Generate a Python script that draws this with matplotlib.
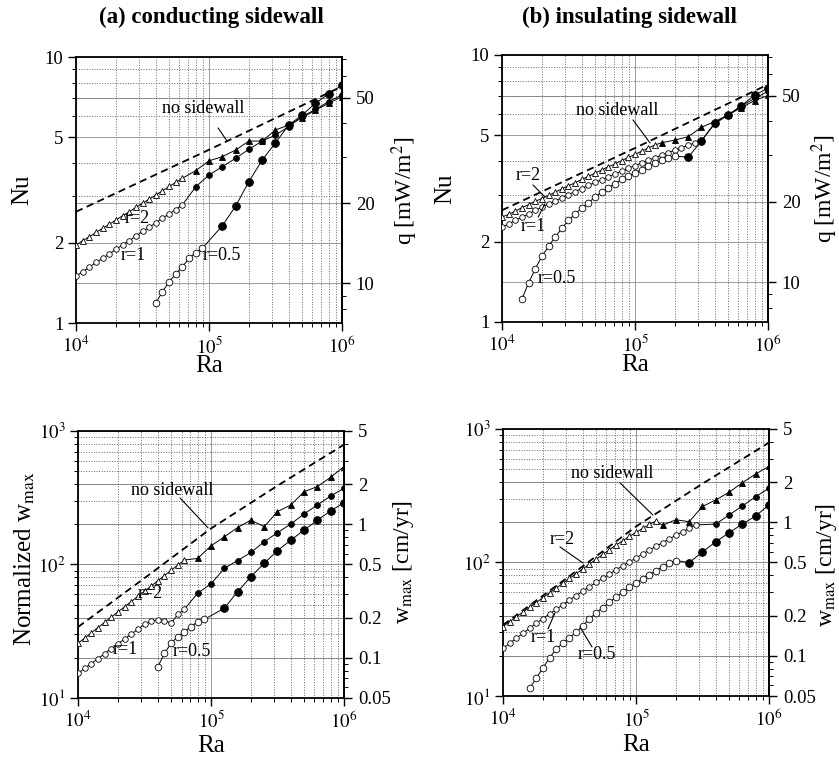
import numpy as np
import matplotlib
matplotlib.use("Agg")
import matplotlib.pyplot as plt
from matplotlib.ticker import FixedLocator, NullFormatter, LogLocator

plt.rcParams["font.family"] = ["Liberation Serif", "DejaVu Serif"]
plt.rcParams["mathtext.fontset"] = "stix"

# ---------------------------------------------------------------- data
# Rayleigh numbers: fine runs (10^4 ... 10^5.5, step 10^0.05), coarse runs (10^4.9 ... 10^6, step 10^0.1)
RA_FINE = np.array([10000, 11220, 12589, 14125, 15849, 17783, 19953, 22387, 25119, 28184,
                    31623, 35481, 39811, 44668, 50119, 56234, 63096, 70795, 79433, 89125,
                    100000, 112202, 125893, 141254, 158489, 177828, 199526, 223872, 251189,
                    281838, 316228])
RA_COARSE = np.array([79433, 100000, 125893, 158489, 199526, 251189, 316228, 398107,
                      501187, 630957, 794328, 1000000])

# no-sidewall reference curves
RA_NOSIDE_NU = [1.0e4, 1.0e5, 1.0e6]
NU_NOSIDE = [2.62, 4.48, 7.75]
RA_NOSIDE_W = [1.0e4, 3.16e4, 1.0e5, 3.16e5, 1.0e6]
W_NOSIDE = [34.0, 79.0, 186.0, 389.0, 790.0]

# (a) conducting sidewall, Nusselt number
NU_A_R2_OPEN = [1.96, 2.04, 2.11, 2.19, 2.27, 2.35, 2.44, 2.53, 2.62, 2.72, 2.82, 2.92,
                3.03, 3.14, 3.26, 3.38, 3.50]
NU_A_R2_FILLED = [3.74, 4.07, 4.22, 4.47, 4.83, 4.83, 5.32, 5.55, 5.92, 6.30, 6.70, 7.10]
NU_A_R1_OPEN = [1.50, 1.56, 1.62, 1.69, 1.75, 1.82, 1.89, 1.97, 2.04, 2.12, 2.21, 2.29,
                2.38, 2.48, 2.57, 2.67, 2.78]
NU_A_R1_FILLED = [3.25, 3.60, 3.87, 4.16, 4.50, 4.83, 5.09, 5.47, 5.97, 6.35, 6.80, 7.20]
NU_A_R05_OPEN = [1.19, 1.31, 1.43, 1.53, 1.63, 1.75, 1.84, 1.91]
NU_A_R05_FILLED = [2.32, 2.75, 3.40, 4.10, 4.76, 5.55, 6.05, 6.70, 7.26, 7.85]

# (b) insulating sidewall, Nusselt number
NU_B_R2_OPEN = [2.47, 2.53, 2.60, 2.68, 2.75, 2.83, 2.90, 2.98, 3.06, 3.15, 3.24, 3.32,
                3.42, 3.51, 3.61, 3.71, 3.81, 3.91, 4.02, 4.13, 4.24, 4.36, 4.48, 4.60]
NU_B_R2_FILLED = [4.69, 4.80, 4.94, 5.36, 5.63, 5.96, 6.35, 6.75, 7.05]
NU_B_R1_OPEN = [2.26, 2.33, 2.40, 2.47, 2.54, 2.62, 2.69, 2.77, 2.84, 2.92, 3.00, 3.08,
                3.16, 3.25, 3.33, 3.41, 3.50, 3.59, 3.67, 3.76, 3.85, 3.94, 4.03, 4.12,
                4.21, 4.31, 4.40, 4.49, 4.59, 4.68, 4.78]
NU_B_R1_FILLED = [5.52, 5.96, 6.44, 6.88, 7.30]
NU_B_R05_OPEN = [1.22, 1.40, 1.58, 1.76, 1.92, 2.08, 2.24, 2.40, 2.54, 2.67, 2.80, 2.93,
                 3.06, 3.18, 3.30, 3.42, 3.52, 3.62, 3.72, 3.83, 3.94, 4.04, 4.12, 4.18]
NU_B_R05_FILLED = [4.14, 4.76, 5.57, 5.96, 6.45, 7.08, 7.50]

# (a) conducting sidewall, normalized maximum vertical velocity
W_A_R2_OPEN = [25.7, 28.1, 30.8, 33.7, 36.8, 40.3, 44.1, 48.2, 52.7, 57.7, 63.1, 69.0,
               75.5, 82.6, 90.4, 98.9, 108.0]
W_A_R2_FILLED = [111, 138, 161, 189, 215, 192, 249, 279, 351, 383, 450, 541]
W_A_R1_OPEN = [15.3, 16.7, 18.1, 19.7, 21.5, 23.4, 25.4, 27.7, 30.1, 32.7, 35.6, 37.6,
               38.5, 38.0, 36.3, 42.2, 46.2]
W_A_R1_FILLED = [61, 71.5, 93.5, 107, 123, 148, 173, 201, 239, 279, 326, 372]
W_A_R05_OPEN = [17.1, 21.6, 25.7, 28.8, 31.4, 34.2, 37.3, 38.8]
W_A_R05_FILLED = [47, 62.5, 81, 102, 127, 152, 181, 215, 252, 290]

# (b) insulating sidewall, normalized maximum vertical velocity
W_B_R2_OPEN = [33.1, 36.0, 39.1, 42.5, 46.1, 50.1, 54.5, 59.2, 64.3, 69.8, 75.9, 82.4,
               89.5, 97.3, 105.7, 114.8, 124.7, 134.9, 145.5, 156.7, 167.9, 179.9, 192.8,
               204.2]
W_B_R2_FILLED = [190, 209, 202, 263, 294, 336, 396, 460, 525]
W_B_R1_OPEN = [22.8, 24.8, 27.1, 29.5, 32.1, 35.0, 38.0, 41.2, 44.6, 48.3, 52.3, 56.5,
               61.0, 65.8, 70.9, 76.3, 82.0, 88.0, 94.4, 101, 108, 116, 124, 132, 141,
               150, 160, 170, 180, 191]
W_B_R1_FILLED = [194, 227, 265, 311, 360]
W_B_R05_OPEN = [11.4, 13.6, 16.2, 19.3, 22.4, 25.0, 27.4, 30.0, 33.5, 37.7, 42.0, 46.0,
                50.3, 55.0, 60.0, 65.0, 70.0, 75.5, 81.0, 87.0, 93.0, 99.0, 103.5]
W_B_R05_FILLED = [99.8, 120, 143, 167, 194, 223, 270]

# dimensional conversion factors for the right-hand axes
Q_PER_NU = 7.1        # mW/m^2 per unit Nu
W_PER_NORM = 0.005    # cm/yr per unit normalized w_max

# ---------------------------------------------------------------- styling
MARKERS = {"r2": ("^", 4.6, 4.6), "r1": ("o", 4.0, 4.2), "r05": ("o", 4.8, 5.6)}
TICK_FS = 13.5
LABEL_FS = 18
NOTE_FS = 13


def draw_series(ax, ra_open, y_open, ra_filled, y_filled, key):
    m, ms_open, ms_filled = MARKERS[key]
    ra = np.concatenate([ra_open, ra_filled])
    y = np.concatenate([y_open, y_filled])
    ax.plot(ra, y, color="k", lw=0.7, zorder=3)
    ax.plot(ra_open, y_open, ls="none", marker=m, ms=ms_open, mfc="white",
            mec="k", mew=0.6, zorder=4)
    ax.plot(ra_filled, y_filled, ls="none", marker=m, ms=ms_filled, mfc="k",
            mec="k", mew=0.6, zorder=4)


def setup_axes(ax, ylim, yticks, ylabels, yminor, conv, rticks, rlabels, rminor,
               ylabel, rlabel, ylabel_x, rlabel_x, xlabel_y, ylabel_y=0.5, rlabel_y=0.5):
    ax.set_xscale("log")
    ax.set_yscale("log")
    ax.set_xlim(1e4, 1e6)
    ax.set_ylim(*ylim)
    ax.xaxis.set_major_locator(FixedLocator([1e4, 1e5, 1e6]))
    ax.set_xticklabels([r"$10^{4}$", r"$10^{5}$", r"$10^{6}$"])
    ax.xaxis.set_minor_locator(LogLocator(base=10, subs=np.arange(2, 10)))
    ax.xaxis.set_minor_formatter(NullFormatter())
    ax.yaxis.set_major_locator(FixedLocator(yticks))
    ax.set_yticklabels(ylabels)
    ax.yaxis.set_minor_locator(FixedLocator(yminor))
    ax.yaxis.set_minor_formatter(NullFormatter())

    ax.grid(True, which="major", ls="-", lw=0.6, color="0.55")
    ax.grid(True, which="minor", ls=":", lw=0.7, color="0.4")
    ax.set_axisbelow(True)
    for rv in rticks:
        ax.axhline(rv / conv, ls="-", lw=0.6, color="0.55", zorder=0.5)

    ax.tick_params(which="major", direction="out", length=6, width=1.0,
                   labelsize=TICK_FS, pad=3)
    ax.tick_params(which="minor", direction="out", length=3, width=0.7)
    for sp in ax.spines.values():
        sp.set_linewidth(1.3)

    sec = ax.secondary_yaxis("right", functions=(lambda v: v * conv, lambda v: v / conv))
    sec.yaxis.set_major_locator(FixedLocator(rticks))
    sec.set_yticklabels(rlabels)
    sec.yaxis.set_minor_locator(FixedLocator(rminor))
    sec.yaxis.set_minor_formatter(NullFormatter())
    sec.tick_params(which="major", direction="out", length=6, width=1.0,
                    labelsize=TICK_FS, pad=4)
    sec.tick_params(which="minor", direction="out", length=3, width=0.7)
    sec.spines["right"].set_linewidth(1.3)

    ax.text(0.5, xlabel_y, "Ra", transform=ax.transAxes, fontsize=LABEL_FS,
            ha="center", va="center")
    if ylabel:
        ax.text(ylabel_x, ylabel_y, ylabel, transform=ax.transAxes, fontsize=LABEL_FS,
                rotation=90, ha="center", va="center")
    ax.text(rlabel_x, rlabel_y, rlabel, transform=ax.transAxes, fontsize=LABEL_FS - 1,
            rotation=90, ha="center", va="center")


def note(ax, text, pos, line=None):
    ax.text(pos[0], pos[1], text, fontsize=NOTE_FS, ha="center", va="center", zorder=6)
    if line is not None:
        ax.annotate("", xy=line[1], xytext=line[0],
                    arrowprops=dict(arrowstyle="-", lw=0.8, color="k",
                                    shrinkA=0, shrinkB=0), zorder=6)


# ---------------------------------------------------------------- figure
fig = plt.figure(figsize=(8.39, 7.59), dpi=100)
ax_a = fig.add_axes([0.0906, 0.5744, 0.3170, 0.3505])
ax_b = fig.add_axes([0.5983, 0.5758, 0.3170, 0.3518])
ax_c = fig.add_axes([0.0930, 0.0804, 0.3170, 0.3518])
ax_d = fig.add_axes([0.5995, 0.0830, 0.3170, 0.3518])

nu_cfg = dict(ylim=(1, 10), yticks=[1, 2, 5, 10], ylabels=["1", "2", "5", "10"],
              yminor=[3, 4, 6, 7, 8, 9], conv=Q_PER_NU, rticks=[10, 20, 50],
              rlabels=["10", "20", "50"], rminor=[8, 9, 30, 40, 60, 70],
              rlabel=r"q [mW/m$^{2}$]")
w_cfg = dict(ylim=(10, 1000), yticks=[10, 100, 1000],
             ylabels=[r"$10^{1}$", r"$10^{2}$", r"$10^{3}$"],
             yminor=[20, 30, 40, 50, 60, 70, 80, 90, 200, 300, 400, 500, 600, 700, 800, 900],
             conv=W_PER_NORM, rticks=[0.05, 0.1, 0.2, 0.5, 1, 2, 5],
             rlabels=["0.05", "0.1", "0.2", "0.5", "1", "2", "5"],
             rminor=[0.06, 0.07, 0.08, 0.09, 0.3, 0.4, 0.6, 0.7, 0.8, 0.9, 3, 4],
             rlabel=r"w$_{\mathrm{max}}$ [cm/yr]")

setup_axes(ax_a, ylabel="Nu", ylabel_x=-0.203, rlabel_x=1.237, xlabel_y=-0.163, **nu_cfg)
setup_axes(ax_b, ylabel="Nu", ylabel_x=-0.214, rlabel_x=1.214, xlabel_y=-0.163, **nu_cfg)
setup_axes(ax_c, ylabel=r"Normalized w$_{\mathrm{max}}$", ylabel_x=-0.199,
           ylabel_y=0.52, rlabel_x=1.222, rlabel_y=0.51, xlabel_y=-0.178, **w_cfg)
setup_axes(ax_d, ylabel=None, ylabel_x=0, rlabel_x=1.218, rlabel_y=0.49,
           xlabel_y=-0.182, **w_cfg)

dash = dict(color="k", lw=1.3, ls=(0, (4, 2.5)), zorder=3)

# (a) Nu, conducting sidewall
ax_a.plot(RA_NOSIDE_NU, NU_NOSIDE, **dash)
draw_series(ax_a, RA_FINE[0:17], NU_A_R2_OPEN, RA_COARSE, NU_A_R2_FILLED, "r2")
draw_series(ax_a, RA_FINE[0:17], NU_A_R1_OPEN, RA_COARSE, NU_A_R1_FILLED, "r1")
draw_series(ax_a, RA_FINE[12:20], NU_A_R05_OPEN, RA_COARSE[2:], NU_A_R05_FILLED, "r05")
note(ax_a, "no sidewall", (9.0e4, 6.43), ((1.17e5, 5.41), (1.36e5, 4.85)))
note(ax_a, "r=2", (2.9e4, 2.48))
note(ax_a, "r=1", (2.7e4, 1.79))
note(ax_a, "r=0.5", (1.25e5, 1.79))

# (b) Nu, insulating sidewall
ax_b.plot(RA_NOSIDE_NU, NU_NOSIDE, **dash)
draw_series(ax_b, RA_FINE[0:24], NU_B_R2_OPEN, RA_COARSE[3:], NU_B_R2_FILLED, "r2")
draw_series(ax_b, RA_FINE[0:31], NU_B_R1_OPEN, RA_COARSE[7:], NU_B_R1_FILLED, "r1")
draw_series(ax_b, RA_FINE[3:27], NU_B_R05_OPEN, RA_COARSE[5:], NU_B_R05_FILLED, "r05")
note(ax_b, "no sidewall", (7.3e4, 6.22), ((9.66e4, 5.71), (1.30e5, 4.68)))
note(ax_b, "r=2", (1.57e4, 3.55), ((1.71e4, 3.26), (2.10e4, 2.94)))
note(ax_b, "r=1", (1.71e4, 2.27), ((1.87e4, 2.47), (2.10e4, 2.77)))
note(ax_b, "r=0.5", (2.6e4, 1.46))

# (a) w_max, conducting sidewall
ax_c.plot(RA_NOSIDE_W, W_NOSIDE, **dash)
draw_series(ax_c, RA_FINE[0:17], W_A_R2_OPEN, RA_COARSE, W_A_R2_FILLED, "r2")
draw_series(ax_c, RA_FINE[0:17], W_A_R1_OPEN, RA_COARSE, W_A_R1_FILLED, "r1")
draw_series(ax_c, RA_FINE[12:20], W_A_R05_OPEN, RA_COARSE[2:], W_A_R05_FILLED, "r05")
note(ax_c, "no sidewall", (5.1e4, 361), ((5.85e4, 315), (9.5e4, 188)))
note(ax_c, "r=2", (3.48e4, 61))
note(ax_c, "r=1", (2.25e4, 22.9))
note(ax_c, "r=0.5", (7.2e4, 22.1))

# (b) w_max, insulating sidewall
ax_d.plot(RA_NOSIDE_W, W_NOSIDE, **dash)
draw_series(ax_d, RA_FINE[0:24], W_B_R2_OPEN, RA_COARSE[3:], W_B_R2_FILLED, "r2")
draw_series(ax_d, RA_FINE[0:30], W_B_R1_OPEN, RA_COARSE[7:], W_B_R1_FILLED, "r1")
draw_series(ax_d, RA_FINE[4:27], W_B_R05_OPEN, RA_COARSE[5:], W_B_R05_FILLED, "r05")
note(ax_d, "no sidewall", (6.6e4, 468), ((7.6e4, 394), (1.34e5, 227)))
note(ax_d, "r=2", (2.78e4, 148), ((2.68e4, 131), (4.0e4, 99)))
note(ax_d, "r=1", (2.0e4, 27.2), ((2.18e4, 31.8), (2.46e4, 41.9)))
note(ax_d, "r=0.5", (5.1e4, 20.3), ((4.67e4, 23.3), (3.79e4, 32.9)))

fig.text(211 / 839, 1 - 17 / 759, "(a) conducting sidewall", ha="center", va="center",
         fontsize=16.5, fontweight="bold")
fig.text(629 / 839, 1 - 17 / 759, "(b) insulating sidewall", ha="center", va="center",
         fontsize=16.5, fontweight="bold")

fig.savefig("out.png", dpi=100, facecolor="white")
